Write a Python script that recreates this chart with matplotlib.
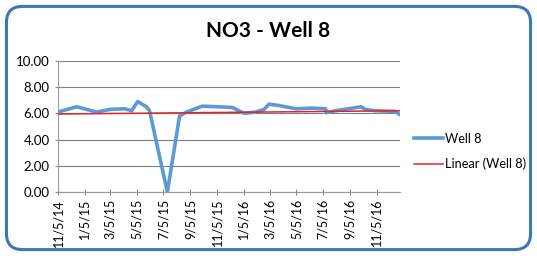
import numpy as np
import pandas as pd
import matplotlib
matplotlib.use("Agg")
import matplotlib.pyplot as plt
import matplotlib.dates as mdates
from matplotlib.patches import FancyBboxPatch

plt.rcParams['font.family'] = ['Lato', 'DejaVu Sans']

# readings for Well 8
dates = ['2014-11-05', '2014-12-18', '2015-02-02', '2015-03-04', '2015-04-07',
         '2015-04-23', '2015-05-07', '2015-05-27', '2015-06-03', '2015-07-14',
         '2015-08-11', '2015-08-27', '2015-10-02', '2015-11-10', '2015-12-10',
         '2016-01-06', '2016-02-02', '2016-02-21', '2016-03-03', '2016-03-26',
         '2016-05-04', '2016-06-09', '2016-07-11', '2016-07-13', '2016-08-03',
         '2016-10-01', '2016-10-10', '2016-11-02', '2016-12-18', '2016-12-29']
no3 = [6.1, 6.5, 6.1, 6.3, 6.35,
       6.2, 6.9, 6.5, 6.2, 0.0,
       5.8, 6.1, 6.55, 6.5, 6.45,
       6.0, 6.1, 6.3, 6.7, 6.6,
       6.35, 6.4, 6.35, 6.05, 6.2,
       6.5, 6.3, 6.2, 6.15, 5.9]
# trendline end values as drawn
trend_vals = [5.95, 6.2]

dt = pd.to_datetime(dates)
blue = '#5b9bd5'
red = '#e8202a'

fig = plt.figure(figsize=(5.37, 2.56), dpi=100)
fig.patch.set_facecolor('white')

box = FancyBboxPatch((0.012, 0.025), 0.976, 0.95, boxstyle='round,pad=0,rounding_size=0.03',
                     transform=fig.transFigure, facecolor='white', edgecolor='#3c78b4',
                     linewidth=2.2, mutation_aspect=537 / 256, zorder=-5)
fig.patches.append(box)

ax = fig.add_axes([0.108, 0.25, 0.637, 0.512])
ax.patch.set_alpha(0)
ax.plot(dt, no3, color=blue, lw=2.6, label='Well 8', zorder=3)
ax.plot([dt[0], dt[-1]], trend_vals, color=red, lw=1.1, label='Linear (Well 8)', zorder=4)

ax.set_xlim(dt[0], dt[-1])
ax.set_ylim(0, 10)
ax.set_yticks(np.arange(0, 10.1, 2))
ax.yaxis.set_major_formatter(plt.FuncFormatter(lambda v, p: f'{v:.2f}'))
ax.xaxis.set_major_locator(mdates.MonthLocator(bymonth=[1, 3, 5, 7, 9, 11], bymonthday=5))
ax.xaxis.set_major_formatter(plt.FuncFormatter(
    lambda v, p: (lambda d: f'{d.month}/{d.day}/{d.year % 100}')(mdates.num2date(v))))
ax.tick_params(axis='x', rotation=90, labelsize=9, length=4, color='#888888',
               direction='inout', pad=3)
ax.tick_params(axis='y', labelsize=9.5, length=4, color='#888888', direction='inout', pad=4)
ax.grid(axis='y', color='#808080', lw=0.8)
ax.set_axisbelow(True)
for s in ['top', 'right']:
    ax.spines[s].set_visible(False)
for s in ['left', 'bottom']:
    ax.spines[s].set_color('#999999')

fig.text(0.5, 0.88, 'NO3 - Well 8', ha='center', va='center', fontsize=15, fontweight='bold')
leg = ax.legend(loc='center left', bbox_to_anchor=(1.04, 0.31), frameon=False, fontsize=9.2,
                handlelength=2.3, labelspacing=1.0, handletextpad=0.15, borderpad=0,
                borderaxespad=0)

fig.savefig('out.png', dpi=100)
